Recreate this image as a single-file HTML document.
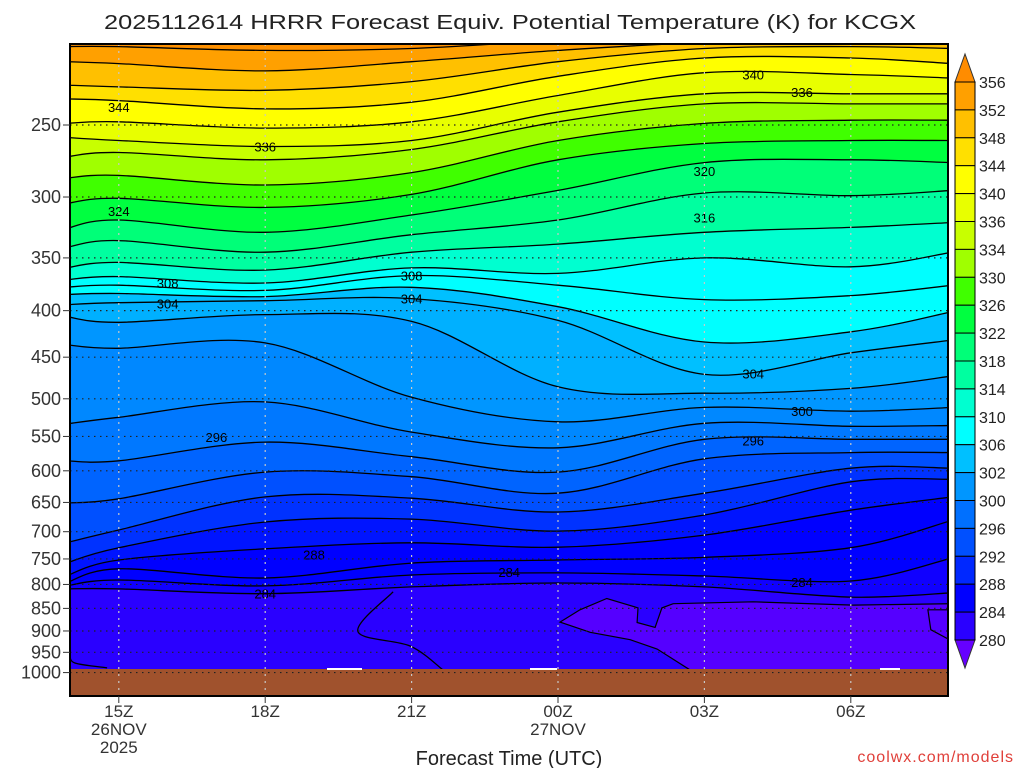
<!DOCTYPE html>
<html><head><meta charset="utf-8"><title>HRRR Equivalent Potential Temperature, KCGX</title>
<style>
html,body{margin:0;padding:0;background:#fff;}
svg{display:block;font-family:"Liberation Sans",sans-serif;}
</style></head>
<body>
<svg id="chart" width="1024" height="768" viewBox="0 0 1024 768" xmlns="http://www.w3.org/2000/svg">
<defs><clipPath id="plotclip"><rect x="70" y="44" width="878" height="652"/></clipPath></defs>
<text x="510" y="29" text-anchor="middle" font-size="20" fill="#222" textLength="812" lengthAdjust="spacingAndGlyphs">2025112614 HRRR Forecast Equiv. Potential Temperature (K) for KCGX</text>
<g id="plot" clip-path="url(#plotclip)"></g>
<g id="axes"></g>
<g id="cbar"></g>
<text x="509" y="765" text-anchor="middle" font-size="20" fill="#222">Forecast Time (UTC)</text>
<text x="1014" y="762" text-anchor="end" font-size="16" fill="#e0403a" letter-spacing="1">coolwx.com/models</text>
</svg>
<script>
// ---- data ----
const hours = [0, 1, 4, 7, 10, 13, 16, 18]; // hours after 14Z 26 Nov
const levels = [356, 352, 348, 344, 340, 336, 334, 330, 326, 322, 318, 314, 310, 308, 306, 304, 302, 300, 298, 296, 294, 292, 290, 288, 286, 285, 284];
const p356 = [205,205,207,206,202,201,201,200];
const p352 = [213,214,218,213,207,203,203,203];
const p348 = [226,227,229,224,213,206,205,206];
const p344 = [234,235,240,236,221,211,211,214];
const p340 = [249,248,252,248,232,219,220,222];
const p336 = [258,260,264,260,242,231,231,231];
const p334 = [271,268,273,266,248,237,237,237];
const p330 = [286,284,291,282,260,249,247,247];
const p326 = [305,301,308,298,273,262,260,260];
const p322 = [325,318,328,314,295,275,273,275];
const p318 = [341,335,345,330,318,297,299,295];
const p314 = [359,354,361,345,338,328,324,320];
const p310 = [370,367,373,359,364,350,358,345];
const p308 = [377,375,380,366,375,389,385,375];
const p306 = [384,383,386,377,396,433,422,401];
const p304 = [394,392,390,388,410,470,445,431];
const p302 = [406,412,404,411,485,493,487,472];
const p300 = [436,440,434,498,530,511,516,511];
const p298 = [533,524,504,544,566,532,536,535];
const p296 = [585,585,558,579,602,554,554,554];
const p294 = [651,644,602,609,635,582,573,573];
const p292 = [720,697,641,643,666,635,596,596];
const p290 = [758,729,683,678,699,671,617,613];
const p288 = [783,752,731,720,728,706,663,641];
const p286 = [797,769,787,758,752,747,729,680];
const p285 = [803,791,803,781,777,783,793,748];
const p284 = [809,809,819,805,797,805,826,817];
const levelPressures = [p356,p352,p348,p344,p340,p336,p334,p330,p326,p322,p318,p314,p310,p308,p306,p304,p302,p300,p298,p296,p294,p292,p290,p288,p286,p285,p284];
const blobHours = [10.04,10.45,11.0,11.64,11.62,11.99,12.13,12.36,14.0,16.04,18.1,18.1,13.01,12.7,12.03,11.48,10.66];
const blobPres  = [880,853,829,849,881,892,849,840,836,843,840,1000,1000,993,942,920,903];
const blob2Hours = [17.58,18.1,18.1,17.64];
const blob2Pres  = [853,853,925,897];
const extraHoursA = [6.62,5.9,6.97,7.64];
const extraPresA  = [815,901,935,993];
const extraHoursB = [0,0.1,0.76];
const extraPresB  = [956,976,988];
const labelText = ['344','336','324','308','304','308','304','320','316','340','336','304','300','296','296','288','284','284','284'];
const labelHour = [1,4,1,2,2,7,7,13,13,14,15,14,15,14,3,5,4,9,15];
const labelPres = [239,264,311,373,393,366,388,281,316,220,230,469,516,556,551,742,819,775,795];
const pTicks = [250,300,350,400,450,500,550,600,650,700,750,800,850,900,950,1000];
const tHours = [1,4,7,10,13,16];
const tLabels = ['15Z','18Z','21Z','00Z','03Z','06Z'];
const tDates = ['26NOV','','','27NOV','',''];
const tYears = ['2025','','','','',''];
const cbLevels = ['356','352','348','344','340','336','334','330','326','322','318','314','310','306','302','300','296','292','288','284','280'];
const cbColors = ['#ffa000','#ffc000','#ffe000','#ffff00','#e8ff00','#c8ff00','#a0ff00','#40ff00','#00ff40','#00ff78','#00ffa0','#00ffd0','#00ffff','#00c0ff','#0096ff','#0070ff','#0050ff','#0028ff','#0000ff','#2a00ff'];
const bandColors = ['#ffa000','#ffc000','#ffe000','#ffff00','#e8ff00','#c8ff00','#a0ff00','#40ff00','#00ff40','#00ff78','#00ffa0','#00ffd0','#00ffff','#00ffff','#00c0ff','#00b0ff','#0096ff','#0088ff','#0078ff','#0064ff','#0050ff','#0032ff','#0014ff','#0000ff','#0000ff','#1000ff','#2a00ff'];

// ---- axes ----
const NS='http://www.w3.org/2000/svg';
const X0=70, X1=948, Y0=44, Y1=696;
function xOf(h){return X0 + h*48.8;}
function yOf(p){return 125 + 395*Math.log(p/250);}
function mk(tag, attrs, parent){const e=document.createElementNS(NS,tag);for(const k in attrs)e.setAttribute(k,attrs[k]);parent.appendChild(e);return e;}
function crPath(pts){
  let d='M'+pts[0][0].toFixed(1)+','+pts[0][1].toFixed(1);
  for(let i=0;i<pts.length-1;i++){
    const p0=pts[i-1]||pts[i], p1=pts[i], p2=pts[i+1], p3=pts[i+2]||pts[i+1];
    const c1=[p1[0]+(p2[0]-p0[0])/6, p1[1]+(p2[1]-p0[1])/6];
    const c2=[p2[0]-(p3[0]-p1[0])/6, p2[1]-(p3[1]-p1[1])/6];
    d+=' C'+c1[0].toFixed(1)+','+c1[1].toFixed(1)+' '+c2[0].toFixed(1)+','+c2[1].toFixed(1)+' '+p2[0].toFixed(1)+','+p2[1].toFixed(1);
  }
  return d;
}
function levelPts(arr){return hours.map((h,i)=>[xOf(h)+(i===hours.length-1?4:0)+(i===0?-4:0), yOf(arr[i])]);}
function interpLevel(arr,h){
  for(let i=0;i<hours.length-1;i++){if(h>=hours[i]&&h<=hours[i+1]){const t=(h-hours[i])/(hours[i+1]-hours[i]);return arr[i]+(arr[i+1]-arr[i])*t;}}
  return arr[arr.length-1];
}

const plot=document.getElementById('plot');
const bg=mk('rect',{x:X0,y:Y0,width:X1-X0,height:Y1-Y0,fill:'#ff9000'},plot);



// filled bands
levels.forEach((lv,i)=>{
  const pts=levelPts(levelPressures[i]);
  const d=crPath(pts)+' L'+(X1+10)+','+(Y1+10)+' L'+(X0-10)+','+(Y1+10)+' Z';
  const el=mk('path',{d:d,fill:bandColors[i],stroke:'none'},plot);
  
  
});
// low theta-e pockets
function polyPath(hs,ps){return hs.map((h,i)=>(i?'L':'M')+xOf(h).toFixed(1)+','+yOf(ps[i]).toFixed(1)).join(' ')+' Z';}
const b1=mk('path',{d:polyPath(blobHours,blobPres),fill:'#5500ff',stroke:'#000','stroke-width':1.2},plot);


const b2=mk('path',{d:polyPath(blob2Hours,blob2Pres),fill:'#5500ff',stroke:'#000','stroke-width':1.2},plot);



// contour lines
levels.forEach((lv,i)=>{
  const el=mk('path',{d:crPath(levelPts(levelPressures[i])),fill:'none',stroke:'#000','stroke-width':1.3},plot);
  
  
});
function lineFrom(hs,ps,name){
  const el=mk('path',{d:crPath(hs.map((h,i)=>[xOf(h),yOf(ps[i])])),fill:'none',stroke:'#000','stroke-width':1.3},plot);
  
  
}
lineFrom(extraHoursA,extraPresA,'contour-282-branch');
lineFrom(extraHoursB,extraPresB,'contour-282-west');

// ground
const g=mk('rect',{x:X0,y:669,width:X1-X0,height:Y1-669,fill:'#a0522d'},plot);


[[327,35],[530,27],[880,20]].forEach((s,i)=>{
  const w=mk('rect',{x:s[0],y:668,width:s[1],height:2,fill:'#fff'},plot);
  
  
});

// contour labels
labelText.forEach((t,i)=>{
  const el=mk('text',{x:xOf(labelHour[i]),y:yOf(labelPres[i])+5,'text-anchor':'middle','font-size':13,fill:'#000'},plot);
  el.textContent=t;
  
  
});

// grid
pTicks.forEach(p=>{
  const y=yOf(p);
  const el=mk('line',{x1:X0,x2:X1,y1:y,y2:y,stroke:'#222','stroke-width':1.2,'stroke-dasharray':'1.5,4.5'},plot);
  
  
});
tHours.forEach(h=>{
  const x=xOf(h);
  const el=mk('line',{x1:x,x2:x,y1:Y0,y2:Y1,stroke:'#c8c8c8','stroke-width':1.2,'stroke-dasharray':'2,5'},plot);
  
  
});

// frame and ticks
const ax=document.getElementById('axes');
const fr=mk('rect',{x:X0,y:Y0,width:X1-X0,height:Y1-Y0,fill:'none',stroke:'#000','stroke-width':2},ax);


pTicks.forEach(p=>{
  const y=yOf(p);
  const t=mk('line',{x1:X0-7,x2:X0,y1:y,y2:y,stroke:'#333','stroke-width':1},ax);
  
  
  const l=mk('text',{x:X0-9,y:y+6,'text-anchor':'end','font-size':18,fill:'#333'},ax);
  l.textContent=p;
  
  
});
tHours.forEach((h,i)=>{
  const x=xOf(h);
  const t=mk('line',{x1:x,x2:x,y1:Y1,y2:Y1+7,stroke:'#333','stroke-width':1},ax);
  
  
  [[tLabels[i],717],[tDates[i],735],[tYears[i],753]].forEach(r=>{
    if(!r[0])return;
    const l=mk('text',{x:x,y:r[1],'text-anchor':'middle','font-size':17,fill:'#333'},ax);
    l.textContent=r[0];
    
    
  });
});

// colorbar
const cb=document.getElementById('cbar');
const CX=955, CW=20, CT=82, CB=640, step=(CB-CT)/cbColors.length;
const tri1=mk('path',{d:`M${CX},${CT} L${CX+CW/2},${CT-28} L${CX+CW},${CT} Z`,fill:'#ff8c00',stroke:'#333','stroke-width':1},cb);


const tri2=mk('path',{d:`M${CX},${CB} L${CX+CW/2},${CB+28} L${CX+CW},${CB} Z`,fill:'#6600ff',stroke:'#333','stroke-width':1},cb);


cbColors.forEach((c,i)=>{
  const r=mk('rect',{x:CX,y:CT+i*step,width:CW,height:step,fill:c,stroke:'#000','stroke-width':1},cb);
  
  
});
cbLevels.forEach((t,i)=>{
  const l=mk('text',{x:CX+CW+4,y:CT+i*step+6,'font-size':16,fill:'#222'},cb);
  l.textContent=t;
  
  
});
</script>
</body></html>
